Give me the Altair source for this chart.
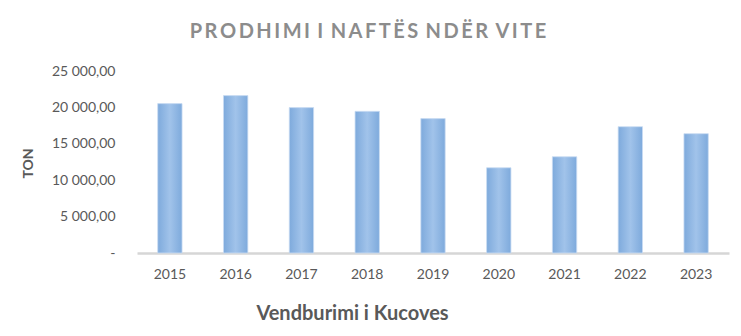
import altair as alt
import pandas as pd

years = ["2015", "2016", "2017", "2018", "2019", "2020", "2021", "2022", "2023"]
values = [20520, 21620, 19970, 19460, 18460, 11710, 13220, 17350, 16390]
title_text = "PRODHIMI I NAFTËS NDËR VITE"

df = pd.DataFrame({"year": years, "value": values})

FONT = "Lato"
THIN = "\u2009"
spaced_title = (" " + THIN).join(THIN.join(w) for w in title_text.split(" "))

grad = alt.Gradient(
    gradient="linear",
    x1=0, x2=1, y1=0, y2=0,
    stops=[
        alt.GradientStop(color="#7eaadc", offset=0),
        alt.GradientStop(color="#a1c3ea", offset=0.5),
        alt.GradientStop(color="#7eaadc", offset=1),
    ],
)

chart = alt.Chart(df).mark_bar(color=grad, stroke="#c9dcf2", strokeWidth=0.8).encode(
    x=alt.X(
        "year:N",
        sort=years,
        scale=alt.Scale(paddingInner=0.63, paddingOuter=0.315),
        axis=alt.Axis(
            title="Vendburimi i Kucoves",
            titleFont=FONT,
            titleFontSize=20,
            titleFontWeight="bold",
            titleColor="#595959",
            titleX=215,
            titleY=60,
            titleBaseline="middle",
            titleAlign="center",
            labelFont=FONT,
            labelFontSize=14,
            labelColor="#595959",
            labelAngle=0,
            labelPadding=14,
            ticks=False,
            domainColor="#d6d6d6",
            domainWidth=2.5,
            grid=False,
        ),
    ),
    y=alt.Y(
        "value:Q",
        scale=alt.Scale(domain=[0, 25000], nice=False),
        axis=alt.Axis(
            title="TON",
            titleFont=FONT,
            titleFontSize=14,
            titleFontWeight="bold",
            titleColor="#595959",
            titleX=-109,
            titleY=92,
            titleAngle=-90,
            titleBaseline="middle",
            titleAlign="center",
            values=[0, 5000, 10000, 15000, 20000, 25000],
            labelExpr="datum.value == 0 ? '-' : replace(replace(format(datum.value, ',.2f'), ',', ' '), '.', ',')",
            labelFont=FONT,
            labelFontSize=14,
            labelColor="#595959",
            labelPadding=22,
            ticks=False,
            domain=False,
            grid=False,
        ),
    ),
).properties(
    width=592,
    height=182,
    title=alt.TitleParams(
        text=spaced_title,
        font=FONT,
        fontSize=20,
        fontWeight="bold",
        color="#8c8c8c",
        anchor="middle",
        dx=-65,
        offset=22,
    ),
    autosize=alt.AutoSizeParams(type="none"),
    padding={"left": 137, "top": 71, "right": 12, "bottom": 83},
).configure_view(stroke=None)

chart.save("out.html", embed_options={"renderer": "svg", "actions": False})
